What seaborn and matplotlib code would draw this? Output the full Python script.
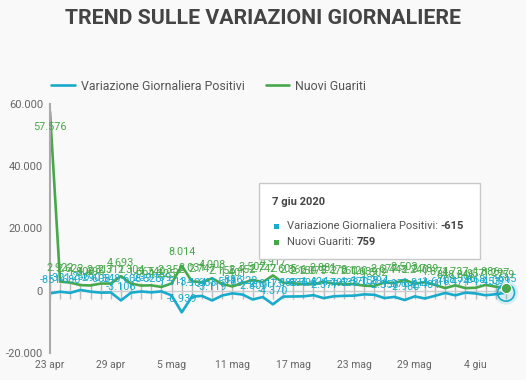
# Trend of daily changes, Italy 23 apr - 7 giu 2020
import pandas as pd
import matplotlib.pyplot as plt
import seaborn as sns
from matplotlib.patches import Rectangle
from matplotlib.text import Annotation

# data
dates = pd.date_range("2020-04-23", "2020-06-07")
variazione_positivi = [-851, -321, -680, 256, -290, -608, -548, -3106,
                       -608, -239, -525, -199, -1513, -6939, -1904, -1663, -3119, -1518,
                       -836, -1222, -2809, -2017, -4370, -1883, -1836, -1798, -1424, -2377,
                       -1792, -1638, -1570, -1158, -1294, -2358, -1976, -2980, -1811, -2484,
                       -1616, -708, -1474, -596, -868, -1453, -1099, -615]
nuovi_guariti = [57576, 2922, 2622, 1808, 1696, 2317, 2311, 4693,
                 2304, 1665, 1740, 1225, 2352, 8014, 3031, 2747, 4008, 2155,
                 1401, 2452, 3502, 2747, 4917, 2605, 2366, 2150, 2075, 2881,
                 2278, 2160, 2120, 1639, 1502, 2677, 2443, 3503, 2240, 2789,
                 1874, 848, 1737, 846, 957, 1886, 1297, 759]
series_names = ["Variazione Giornaliera Positivi", "Nuovi Guariti"]
tick_labels = ["23 apr", "29 apr", "5 mag", "11 mag", "17 mag", "23 mag", "29 mag", "4 giu"]
tooltip_date = "7 giu 2020"

colors = {"Variazione Giornaliera Positivi": "#19abcb", "Nuovi Guariti": "#47a84b"}
bg = "#f9f9f9"


def fmt(v):
    return f"{v:,.0f}".replace(",", ".")


df = pd.DataFrame({"data": list(dates) * 2,
                   "valore": variazione_positivi + nuovi_guariti,
                   "serie": [series_names[0]] * len(dates) + [series_names[1]] * len(dates)})

sns.set_theme(style="white")
plt.rcParams['font.family'] = ['Roboto', 'DejaVu Sans']

fig = plt.figure(figsize=(5.26, 3.8), dpi=100, facecolor=bg)
ax = fig.add_axes([50 / 526, 1 - 353 / 380, 456 / 526, 249 / 380])
ax.set_facecolor(bg)

sns.lineplot(data=df, x="data", y="valore", hue="serie", hue_order=series_names,
             palette=colors, linewidth=1.9, ax=ax)

ax.set_xlim(dates[0], dates[-1])
ax.set_ylim(-20000, 60000)
ax.set_yticks([-20000, 0, 20000, 40000, 60000])
ax.set_yticklabels([fmt(v) for v in [-20000, 0, 20000, 40000, 60000]])
ax.set_xticks(dates[::6])
ax.set_xticklabels(tick_labels)
ax.tick_params(axis="y", length=0, pad=5, labelsize=8, labelcolor="#666666")
ax.tick_params(axis="x", length=0, pad=5, labelsize=7.5, labelcolor="#666666")
ax.set_xlabel("")
ax.set_ylabel("")
for s in ["top", "right", "bottom"]:
    ax.spines[s].set_visible(False)
ax.spines["left"].set_color("#aaaaaa")
ax.spines["left"].set_linewidth(1.5)

# zero line with a tick at every day
zero_ax = ax.secondary_xaxis(0.25)
zero_ax.set_xticks(dates)
zero_ax.tick_params(direction="inout", length=12, width=1, color="#bbbbbb", labelbottom=False)
zero_ax.spines["bottom"].set_color("#cccccc")
zero_ax.spines["bottom"].set_linewidth(1)

# data labels
for name, values in zip(series_names, [variazione_positivi, nuovi_guariti]):
    for d, v in zip(dates, values):
        off = -15 if v > 50000 else 6
        ax.annotate(fmt(v), (d, v), xytext=(0, off), textcoords="offset points",
                    ha="center", va="bottom", fontsize=7.8, color=colors[name])

# hover markers on the last day
ax.scatter([dates[-1]], [variazione_positivi[-1]], s=150, facecolor="none",
           edgecolor=colors[series_names[0]], linewidth=1.2, zorder=5, clip_on=False)
ax.scatter([dates[-1]], [variazione_positivi[-1]], s=300, facecolor=colors[series_names[0]],
           alpha=0.15, edgecolor="none", zorder=4, clip_on=False)
ax.scatter([dates[-1]], [nuovi_guariti[-1]], s=55, color=colors[series_names[1]],
           edgecolor="white", linewidth=0.8, zorder=6, clip_on=False)

# legend
handles, labels = ax.get_legend_handles_labels()
ax.legend(handles, labels, loc="center left", bbox_to_anchor=(40 / 526, 1 - 86 / 380),
          bbox_transform=fig.transFigure, ncol=2, frameon=False, fontsize=8.9,
          handlelength=1.9, handletextpad=0.5, columnspacing=1.7,
          labelcolor="#555555")

# title
fig.text(0.5, 1 - 18 / 380, "TREND SULLE VARIAZIONI GIORNALIERE", ha="center", va="center",
         fontsize=15.3, fontweight="bold", color="#444444")

# tooltip
fig.add_artist(Rectangle((259 / 526, 1 - 259 / 380), 221 / 526, 76 / 380,
                         transform=fig.transFigure, facecolor="white",
                         edgecolor="#c8c8c8", linewidth=1, zorder=10))
fig.text(272 / 526, 1 - 202 / 380, tooltip_date, ha="left", va="center",
         fontsize=8, fontweight="bold", color="#444444", zorder=11)
for i, (name, values) in enumerate(zip(series_names, [variazione_positivi, nuovi_guariti])):
    yy = 1 - (226 + i * 16) / 380
    fig.add_artist(Rectangle((274 / 526, yy - 2.5 / 380), 5 / 526, 5 / 380,
                             transform=fig.transFigure, facecolor=colors[name],
                             edgecolor="none", zorder=11))
    t = fig.text(287 / 526, yy, name + ": ", ha="left", va="center",
                 fontsize=8, color="#555555", zorder=11)
    fig.add_artist(Annotation(fmt(values[-1]), xy=(1, 0.5), xycoords=t, ha="left", va="center",
                              fontsize=8, fontweight="bold", color="#444444", zorder=11))

plt.savefig("out.png", dpi=100, facecolor=bg)
